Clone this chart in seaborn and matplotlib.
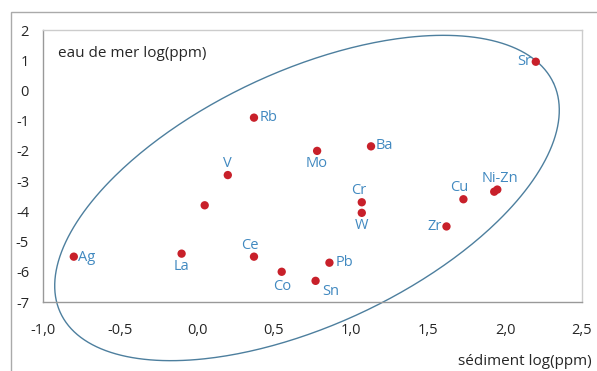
import numpy as np
import pandas as pd
import seaborn as sns
import matplotlib.pyplot as plt
from matplotlib.patches import Rectangle

# data: log(ppm) in sediment vs sea water
elements = ['Ag', 'La', '', 'Ce', 'Co', 'V', 'Rb', 'Mo', 'Sn', 'Pb', 'Cr', 'W', 'Ba',
            'Zr', 'Cu', 'Ni-Zn', '', 'Sr']
sediment = [-0.80, -0.10, 0.05, 0.37, 0.55, 0.20, 0.37, 0.78, 0.77, 0.86, 1.07, 1.07, 1.13,
            1.62, 1.73, 1.95, 1.93, 2.20]
seawater = [-5.5, -5.4, -3.8, -5.5, -6.0, -2.8, -0.9, -2.0, -6.3, -5.7, -3.7, -4.05, -1.85,
            -4.5, -3.6, -3.28, -3.35, 0.95]

xticks = [-1.0, -0.5, 0.0, 0.5, 1.0, 1.5, 2.0, 2.5]
yticks = [2, 1, 0, -1, -2, -3, -4, -5, -6, -7]

# label offsets in pixels (dx, dy, ha, va)
offsets = {
    'Ag': (4, -1, 'left', 'center'),
    'La': (0, -5, 'center', 'top'),
    'Ce': (-4, 4, 'center', 'bottom'),
    'Co': (0, -7, 'center', 'top'),
    'V': (0, 4, 'center', 'bottom'),
    'Rb': (6, 0, 'left', 'center'),
    'Mo': (0, -5, 'center', 'top'),
    'Sn': (7, -3, 'left', 'top'),
    'Pb': (6, 0, 'left', 'center'),
    'Cr': (-3, 4, 'center', 'bottom'),
    'W': (0, -5, 'center', 'top'),
    'Ba': (5, 1, 'left', 'center'),
    'Zr': (-5, 0, 'right', 'center'),
    'Cu': (-4, 4, 'center', 'bottom'),
    'Ni-Zn': (3, 4, 'center', 'bottom'),
    'Sr': (-5, 0, 'right', 'center'),
}

df = pd.DataFrame({'el': elements, 'sed': sediment, 'sea': seawater})

sns.set_style('white')
plt.rcParams['font.family'] = ['Open Sans', 'DejaVu Sans']

fig = plt.figure(figsize=(5.97, 3.71), dpi=100)
ax = fig.add_axes([43 / 597, 1 - 302 / 371, 539 / 597, 272 / 371])

sns.scatterplot(data=df, x='sed', y='sea', ax=ax, color='#c8202a', s=36,
                edgecolor='none', zorder=3)

for _, r in df.iterrows():
    if r['el'] == '':
        continue
    dx, dy, ha, va = offsets[r['el']]
    ax.annotate(r['el'], (r['sed'], r['sea']), xytext=(dx, dy), textcoords='offset pixels',
                ha=ha, va=va, color='#4189c0', fontsize=10.5)

# envelope ellipse (drawn in pixel-like space so the tilt looks right)
t = np.linspace(0, 2 * np.pi, 400)
th = np.radians(25)
a, b = 272, 127
px_x = 307 + a * np.cos(t) * np.cos(th) - b * np.sin(t) * np.sin(th)
px_y = 198 - (a * np.cos(t) * np.sin(th) + b * np.sin(t) * np.cos(th))
ex = -1 + (px_x - 43) / 154
ey = 2 - (px_y - 30) / (272 / 9)
ax.plot(ex, ey, color='#4d7f9e', lw=1, clip_on=False, zorder=2)

ax.set_xlim(-1, 2.5)
ax.set_ylim(-7, 2)
ax.set_xticks(xticks)
ax.set_xticklabels([f'{v:.1f}'.replace('.', ',') for v in xticks])
ax.set_yticks(yticks)
ax.set_yticklabels([str(v) for v in yticks])
ax.tick_params(axis='x', length=3, pad=12, labelsize=10.5, color='#999999', direction='out')
ax.tick_params(axis='y', length=3, pad=7, labelsize=10.5, color='#999999', direction='out')
ax.set_xlabel('')
ax.set_ylabel('')
for side in ['left', 'bottom']:
    ax.spines[side].set_color('#999999')
    ax.spines[side].set_linewidth(1)
for side in ['top', 'right']:
    ax.spines[side].set_color('#cccccc')
    ax.spines[side].set_linewidth(1)

ax.text(0.028, 0.915, 'eau de mer log(ppm)', transform=ax.transAxes, fontsize=11,
        ha='left', va='center')
ax.text(1.0185, -0.22, 'sédiment log(ppm)', transform=ax.transAxes, fontsize=11,
        ha='right', va='center', clip_on=False)

# outer frame
fig.patches.append(Rectangle((11 / 597, -0.01), 1.0, 1 - 12 / 371 + 0.01,
                             transform=fig.transFigure, fill=False,
                             edgecolor='#aaaaaa', lw=1))

fig.savefig('out.png', dpi=100)
